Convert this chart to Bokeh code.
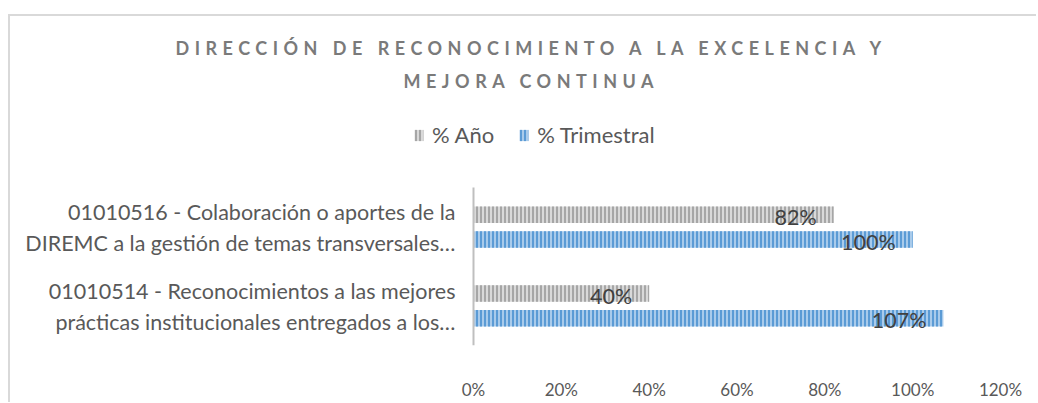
from bokeh.plotting import figure
from bokeh.models import (ColumnDataSource, Range1d, NumeralTickFormatter,
                          FixedTicker, Legend, LegendItem, Title)
from bokeh.transform import dodge
from bokeh.embed import file_html
from bokeh.resources import INLINE
from bokeh.core.properties import value

# ---- data ----
title_lines = ["DIRECCIÓN DE RECONOCIMIENTO A LA EXCELENCIA Y", "MEJORA CONTINUA"]
categories = [
    "01010514 - Reconocimientos a las mejores\nprácticas institucionales entregados a los…",
    "01010516 - Colaboración o aportes de la\nDIREMC a la gestión de temas transversales…",
]
series_names = ["% Año", "% Trimestral"]
pct_anio = [0.40, 0.82]
pct_trim = [1.07, 1.00]
x_ticks = [0, 0.2, 0.4, 0.6, 0.8, 1.0, 1.2]

FONT = "Lato"
W = 1028

ypos = [i + 0.5 for i in range(len(categories))]
src = ColumnDataSource(dict(
    y=ypos,
    anio=pct_anio,
    trim=pct_trim,
    anio_lbl=[f"{round(v * 100)}%" for v in pct_anio],
    trim_lbl=[f"{round(v * 100)}%" for v in pct_trim],
))

# ---- title (separate root so that letter-spacing only touches it) ----
tf = figure(width=W, height=103, output_backend="svg", toolbar_location=None,
            x_range=Range1d(0, 1), y_range=Range1d(0, 1),
            min_border_left=0, min_border_right=0, min_border_top=75, min_border_bottom=20)
tf.axis.visible = False
tf.grid.visible = False
tf.outline_line_color = None
tf.styles = {"letter-spacing": "5.5px", "margin-left": "8px", "margin-top": "14px",
             "border-left": "2px solid #d9d9d9", "border-top": "2px solid #d9d9d9"}
offsets = [165, 393]
standoffs = [17, 0]
for line, off, so in reversed(list(zip(title_lines, offsets, standoffs))):
    tf.add_layout(Title(text=line, align="left", offset=off, standoff=so,
                        text_font=FONT, text_font_size="18px",
                        text_font_style="bold", text_color="#7a7a7a"), "above")

# ---- main chart ----
p = figure(width=W, height=285, output_backend="svg", toolbar_location=None,
           x_range=Range1d(-1.0542, 1.2), y_range=Range1d(0, 2.894),
           min_border_left=0, min_border_right=38, min_border_top=0, min_border_bottom=52)
p.styles = {"margin-left": "8px", "border-left": "2px solid #d9d9d9"}
p.outline_line_color = None
p.xgrid.grid_line_color = None
p.ygrid.grid_line_color = None

r1 = p.hbar(y=dodge("y", 0.16), height=0.21, left=0, right="anio",
            source=src, fill_color="#d9d9d9", line_color=None,
            hatch_pattern="|", hatch_color="#a6a6a6", hatch_scale=4, hatch_weight=2)
r2 = p.hbar(y=dodge("y", -0.155), height=0.21, left=0, right="trim",
            source=src, fill_color="#a9cbeb", line_color=None,
            hatch_pattern="|", hatch_color="#5b9bd5", hatch_scale=4, hatch_weight=2)

lbl_kw = dict(text_align="right", text_baseline="middle", x_offset=-17, y_offset=2,
              text_font=value(FONT), text_font_size="21.5px", text_color="#404040", source=src)
p.text(x="anio", y=dodge("y", 0.16), text="anio_lbl", **lbl_kw)
p.text(x="trim", y=dodge("y", -0.155), text="trim_lbl", **lbl_kw)

p.xaxis.ticker = FixedTicker(ticks=x_ticks)
p.xaxis.formatter = NumeralTickFormatter(format="0%")
p.xaxis.axis_line_color = None
p.xaxis.major_tick_line_color = None
p.xaxis.minor_tick_line_color = None
p.xaxis.major_label_standoff = 27
p.xaxis.major_label_text_font = FONT
p.xaxis.major_label_text_font_size = "17px"
p.xaxis.major_label_text_color = "#595959"

yax = p.yaxis[0]
yax.fixed_location = 0
yax.bounds = (0, len(categories))
yax.ticker = FixedTicker(ticks=ypos)
yax.major_label_overrides = {y: c for y, c in zip(ypos, categories)}
yax.axis_line_color = "#bfbfbf"
yax.axis_line_width = 2
yax.major_tick_line_color = None
yax.minor_tick_line_color = None
yax.major_label_standoff = 12
yax.major_label_text_font = FONT
yax.major_label_text_font_size = "21.5px"
yax.major_label_text_color = "#595959"

legend = Legend(items=[LegendItem(label=series_names[0], renderers=[r1]),
                       LegendItem(label=series_names[1], renderers=[r2])],
                orientation="horizontal", location=(403, 197),
                border_line_color=None, background_fill_alpha=0,
                padding=0, margin=0, spacing=24, label_standoff=8,
                glyph_width=11, glyph_height=14, label_height=14,
                label_text_font=FONT, label_text_font_size="22px",
                label_text_color="#595959")
p.add_layout(legend, "center")

open("out.html", "w").write(file_html([tf, p], INLINE))
